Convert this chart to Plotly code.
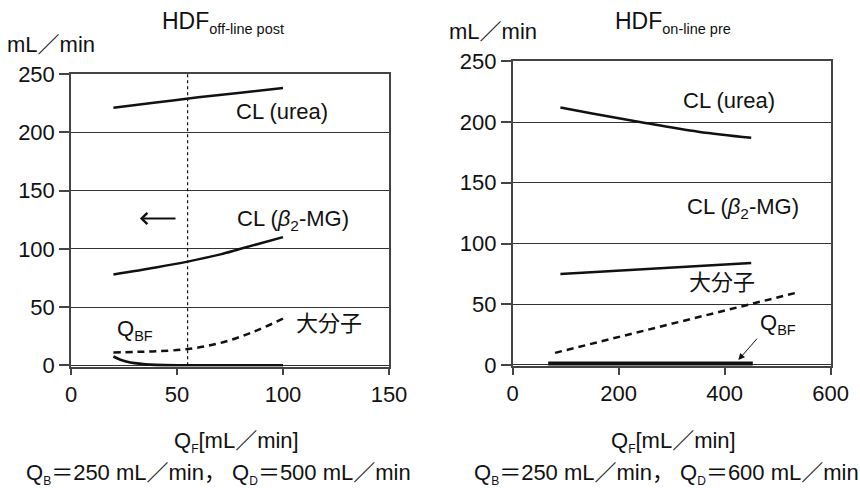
import plotly.graph_objects as go

# ---- data ----
left_urea_x = [20, 40, 60, 80, 100]
left_urea_y = [221, 225.5, 230, 234, 238]
left_b2m_x = [20, 40, 55, 70, 80, 100]
left_b2m_y = [78, 84, 89, 95, 100, 110]
left_large_x = [20, 30, 40, 55, 70, 85, 100]
left_large_y = [11, 11.5, 12, 14, 19, 28, 40]
left_qbf_x = [20, 23, 26, 30, 35, 40, 50, 100]
left_qbf_y = [7.5, 5, 3.3, 1.8, 0.8, 0.3, 0, 0]
marker_15L_x = 55

right_urea_x = [90, 150, 240, 350, 450]
right_urea_y = [212, 207, 200, 192, 187]
right_b2m_x = [90, 270, 450]
right_b2m_y = [75, 79.5, 84]
right_large_x = [80, 540]
right_large_y = [10, 60]
right_qbf_x = [67, 453]
right_qbf_y = [1.2, 1.2]

left_xticks = [0, 50, 100, 150]
right_xticks = [0, 200, 400, 600]
yticks = [0, 50, 100, 150, 200, 250]

FONT = "Liberation Sans, Arial, Noto Sans CJK JP"
FS = 22
BLACK = "#111"

fig = go.Figure()

def line(x, y, xa, ya, width=2.5, dash=None, shape="spline"):
    fig.add_trace(go.Scatter(x=x, y=y, xaxis=xa, yaxis=ya, mode="lines",
                             line=dict(color=BLACK, width=width, dash=dash, shape=shape),
                             showlegend=False, hoverinfo="skip"))

# left panel
line(left_urea_x, left_urea_y, "x", "y")
line(left_b2m_x, left_b2m_y, "x", "y")
line(left_large_x, left_large_y, "x", "y", dash="7px,5px")
line(left_qbf_x, left_qbf_y, "x", "y", width=2.8)
line([marker_15L_x, marker_15L_x], [0, 250], "x", "y", width=1.2, dash="3px,3px", shape="linear")

# right panel
line(right_urea_x, right_urea_y, "x2", "y2")
line(right_b2m_x, right_b2m_y, "x2", "y2")
line(right_large_x, right_large_y, "x2", "y2", dash="7px,5px", shape="linear")
line(right_qbf_x, right_qbf_y, "x2", "y2", width=4, shape="linear")

axis_common = dict(showline=True, linecolor="#444", linewidth=1.5, mirror=True,
                   ticks="outside", tickcolor="#444", tickwidth=1.5,
                   tickfont=dict(family=FONT, size=FS, color=BLACK), zeroline=False)

fig.update_layout(
    width=860, height=488, margin=dict(l=0, r=0, t=0, b=0, autoexpand=False),
    paper_bgcolor="white", plot_bgcolor="white",
    font=dict(family=FONT, size=FS, color=BLACK),
    xaxis=dict(domain=[71 / 860, 389 / 860], range=[0, 150], tickvals=left_xticks,
               showgrid=False, ticklen=7, anchor="y", **axis_common),
    yaxis=dict(domain=[(488 - 366.5) / 488, (488 - 74) / 488], range=[-1, 250], tickvals=yticks,
               showgrid=True, gridcolor="#333", gridwidth=1, ticklen=10, anchor="x", **axis_common),
    xaxis2=dict(domain=[512.7 / 860, 830.7 / 860], range=[0, 600], tickvals=right_xticks,
                showgrid=False, ticklen=7, anchor="y2", **axis_common),
    yaxis2=dict(domain=[(488 - 366.2) / 488, (488 - 61.3) / 488], range=[-1, 250], tickvals=yticks,
                showgrid=True, gridcolor="#333", gridwidth=1, ticklen=10, anchor="x2", **axis_common),
)

ann = []
def txt(text, x, y, xref, yref, xanchor="center", yanchor="middle", size=FS):
    ann.append(dict(text=text, x=x, y=y, xref=xref, yref=yref, xanchor=xanchor, yanchor=yanchor,
                    showarrow=False, font=dict(family=FONT, size=size, color=BLACK)))

def sub(s, px=12):
    return '<sub><span style="font-size:%spx">%s</span></sub>' % (px, s)

# titles and unit labels
txt('HDF' + sub('off-line post', 14.5), 160 / 860, 1 - 23 / 488, "paper", "paper", xanchor="left", size=23)
txt('HDF' + sub('on-line pre', 14.5), 613 / 860, 1 - 23 / 488, "paper", "paper", xanchor="left", size=23)
txt("mL／min", 51 / 860, 1 - 45 / 488, "paper", "paper")
txt("mL／min", 493 / 860, 1 - 32 / 488, "paper", "paper")

# x-axis titles and conditions
txt("Q" + sub("F") + "[mL／min]", 236.7 / 860, 1 - 442 / 488, "paper", "paper")
txt("Q" + sub("F") + "[mL／min]", 673.3 / 860, 1 - 442 / 488, "paper", "paper")
txt("Q" + sub("B") + "＝250 mL／min， Q" + sub("D") + "＝500 mL／min", 218 / 860, 1 - 474 / 488,
    "paper", "paper")
txt("Q" + sub("B") + "＝250 mL／min， Q" + sub("D") + "＝600 mL／min", 471.7 / 860, 1 - 474 / 488,
    "paper", "paper", xanchor="left")

# left panel labels
txt("15L", marker_15L_x + 0.5, 259.5, "x", "y")
txt("CL (urea)", 99.5, 217.4, "x", "y")
txt("CL (<i>β</i><sub>2</sub>-MG)", 104.7, 124.7, "x", "y")
txt("大分子", 121.7, 36.3, "x", "y")
txt("Q" + sub("BF", 14.5), 20.8, 30.5, "x", "y", xanchor="left")

# right panel labels
txt("CL (urea)", 408, 218.1, "x2", "y2")
txt("CL (<i>β</i><sub>2</sub>-MG)", 433.6, 129.2, "x2", "y2")
txt("大分子", 395, 68.3, "x2", "y2")
txt("Q" + sub("BF", 14.5), 462.5, 33.5, "x2", "y2", xanchor="left")

# arrows
ann.append(dict(text="", x=32.5, y=126, ax=50, ay=126, xref="x", yref="y", axref="x", ayref="y",
                showarrow=True, arrowhead=4, arrowwidth=2, arrowsize=1.1, arrowcolor=BLACK))
ann.append(dict(text="", x=425.7, y=4.1, ax=463.4, ay=22.8, xref="x2", yref="y2", axref="x2", ayref="y2",
                showarrow=True, arrowhead=2, arrowwidth=1, arrowsize=1.3, arrowcolor=BLACK))

fig.update_layout(annotations=ann)
fig.write_html("out.html")
